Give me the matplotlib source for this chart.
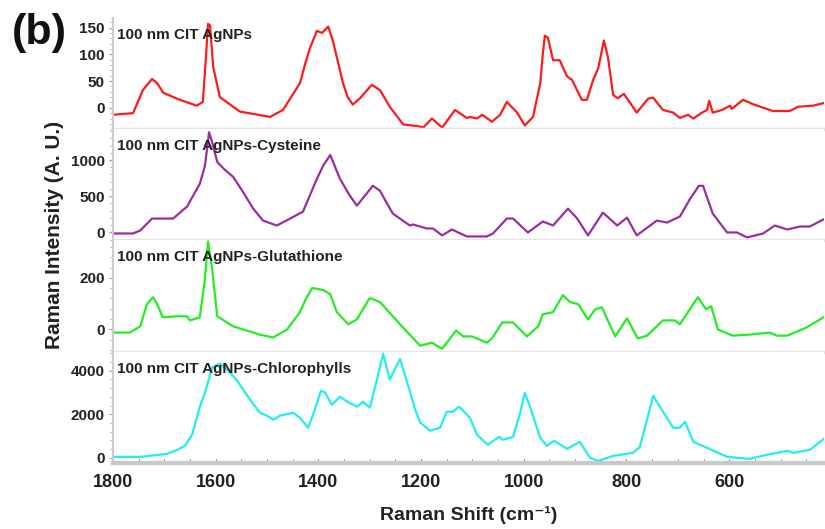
import matplotlib.pyplot as plt
import numpy as np
from matplotlib.ticker import MultipleLocator, AutoMinorLocator

plt.rcParams['font.family'] = ['Liberation Sans', 'DejaVu Sans']
plt.rcParams['font.weight'] = 'bold'

# Spectra (wavenumber cm-1, intensity A.U.)
cit_wn = [1800, 1761, 1742, 1724, 1714, 1702, 1670, 1637, 1625, 1618, 1615, 1611, 1605, 1592, 1553, 1494,
          1469, 1436, 1425, 1416, 1403, 1393, 1381, 1372, 1352, 1343, 1333, 1319, 1296, 1280, 1261, 1235, 1202,
          1196, 1179, 1159, 1134, 1111, 1105, 1091, 1081, 1062, 1046, 1033, 1013, 998, 982, 968,
          963, 959, 953, 943, 930, 916, 906, 887, 877, 865, 855, 844, 836, 826, 817, 805, 797, 780, 758,
          748, 729, 709, 696, 680, 670, 653, 643, 639, 632, 614, 598, 595, 573, 554, 515, 482, 466,
          437, 415]
cit_int = [-13, -10, 33, 54, 46, 28, 15, 4, 11, 110, 157, 154, 77, 20, -7, -17,
           -4, 46, 85, 113, 144, 140, 152, 126, 46, 20, 6, 18, 43, 33, 2, -31, -35,
           -37, -20, -37, -4, -19, -17, -20, -13, -26, -13, 11, -9, -33, -17, 46,
           100, 135, 131, 89, 89, 59, 52, 15, 15, 52, 74, 126, 94, 24, 18, 26, 15, -9, 17,
           19, -4, -9, -19, -13, -20, -9, -4, 13, -9, -4, 4, -2, 15, 7, -6, -6, 2,
           4, 9]

cys_wn = [1800, 1761, 1747, 1724, 1683, 1656, 1631, 1621, 1613, 1607, 1597, 1583, 1566, 1547, 1527, 1508, 1481,
          1455, 1430, 1403, 1390, 1377, 1358, 1340, 1325, 1294, 1280, 1268, 1255, 1222, 1216, 1189, 1177, 1159, 1140,
          1111, 1072, 1060, 1033, 1021, 992, 963, 943, 914, 896, 875, 846, 818, 799, 780, 741, 721,
          696, 676, 659, 651, 632, 604, 585, 565, 534, 511, 487, 462, 443, 413]
cys_int = [-14, -14, 27, 192, 192, 356, 671, 918, 1384, 1247, 973, 870, 767, 560, 329, 164, 96,
           192, 288, 740, 930, 1069, 740, 520, 370, 644, 575, 420, 260, 96, 110, 55, 55, -41, 41,
           -55, -55, -14, 192, 192, 0, 151, 96, 329, 192, -41, 274, 96, 205, -41, 164, 137,
           219, 466, 644, 644, 260, 0, 0, -69, -14, 96, 41, 82, 82, 192]

glu_wn = [1800, 1767, 1747, 1734, 1722, 1714, 1703, 1675, 1656, 1650, 1631, 1621, 1615, 1607, 1597,
          1566, 1514, 1488, 1461, 1436, 1424, 1412, 1391, 1377, 1364, 1342, 1325, 1300, 1280, 1241, 1202,
          1179, 1159, 1132, 1118, 1101, 1072, 1062, 1042, 1021, 994, 972, 963, 943, 924, 910, 894,
          875, 861, 848, 822, 799, 778, 760, 729, 706, 696, 661, 645, 635, 622, 593, 560, 521, 507,
          487, 449, 413]
glu_int = [-12, -12, 12, 98, 125, 98, 47, 51, 51, 35, 47, 196, 341, 235, 51,
           12, -20, -31, 0, 67, 120, 161, 153, 137, 67, 20, 39, 122, 106, 20, -63,
           -51, -75, -4, -27, -27, -51, -35, 27, 27, -27, 12, 59, 67, 133, 106, 98,
           39, 78, 86, -27, 43, -35, -24, 35, 35, 20, 125, 78, 90, 0, -24, -20, -12, -24,
           -24, 8, 51]

chl_wn = [1800, 1747, 1695, 1675, 1660, 1646, 1631, 1621, 1607, 1592, 1572, 1557, 1533, 1514, 1500,
          1488, 1475, 1449, 1436, 1420, 1407, 1395, 1387, 1374, 1358, 1344, 1325, 1313, 1300, 1286,
          1274, 1261, 1241, 1222, 1212, 1202, 1183, 1163, 1150, 1138, 1126, 1105, 1091, 1070, 1048, 1040,
          1021, 1007, 998, 988, 968, 955, 941, 916, 891, 871, 855, 826, 787, 774, 760, 748, 735, 709,
          696, 686, 670, 643, 604, 560, 527, 487, 476, 443, 413]
chl_int = [46, 46, 184, 368, 552, 1058, 2346, 2990, 4140, 4324, 3910, 3496, 2668, 2070, 1932,
           1748, 1932, 2070, 1840, 1380, 2208, 3082, 2990, 2438, 2806, 2576, 2346, 2576, 2300, 3588,
           4784, 3588, 4530, 3060, 2250, 1630, 1242, 1380, 2116, 2116, 2346, 1840, 1058, 598, 966, 828,
           966, 2070, 2990, 2346, 920, 552, 782, 414, 736, 0, -138, 92, 230, 506, 1748, 2852, 2346, 1380,
           1380, 1656, 736, 460, 46, -46, 138, 322, 230, 368, 920]

labels = ['100 nm CIT AgNPs', '100 nm CIT AgNPs-Cysteine',
          '100 nm CIT AgNPs-Glutathione', '100 nm CIT AgNPs-Chlorophylls']
colors = ['#ff1a1a', '#9a2ea0', '#22ee22', '#22eeee']
y_limits = [(-40, 168), (-110, 1425), (-86, 345), (-230, 4870)]
y_steps = [50, 500, 200, 2000]

spectra = [(cit_wn, cit_int), (cys_wn, cys_int), (glu_wn, glu_int), (chl_wn, chl_int)]

fig, axes = plt.subplots(4, 1, sharex=True, figsize=(8.25, 5.29), dpi=100)
fig.subplots_adjust(left=0.137, right=0.999, top=0.966, bottom=0.125, hspace=0)

for i, ax in enumerate(axes):
    wn, inten = spectra[i]
    ax.plot(wn, inten, color=colors[i], lw=1.6)
    ax.set_ylim(*y_limits[i])
    ax.yaxis.set_major_locator(MultipleLocator(y_steps[i]))
    ax.yaxis.set_minor_locator(AutoMinorLocator(5))
    ax.text(0.006, 0.847, labels[i], transform=ax.transAxes, va='center', ha='left',
            fontsize=11, fontweight='bold', color='#222222')
    for side in ['top', 'right']:
        ax.spines[side].set_visible(False)
    ax.spines['left'].set_color('#cccccc')
    ax.spines['left'].set_linewidth(1.5)
    ax.spines['bottom'].set_color('#e4e4e4' if i < 3 else '#c8c8c8')
    ax.spines['bottom'].set_linewidth(2.5 if i < 3 else 3)
    ax.tick_params(axis='y', which='major', labelsize=11, length=3, color='#999999',
                   pad=3, labelcolor='#222222')
    ax.tick_params(axis='y', which='minor', length=2, color='#aaaaaa')
    ax.tick_params(axis='x', which='both', length=0 if i < 3 else 3, color='#777777')
    for lab in ax.get_yticklabels():
        lab.set_fontweight('bold')

ax = axes[-1]
ax.set_xlim(1800, 415)
ax.xaxis.set_major_locator(MultipleLocator(200))
ax.xaxis.set_minor_locator(MultipleLocator(50))
ax.tick_params(axis='x', which='major', labelsize=13, length=3, direction='in', pad=8,
               labelcolor='#222222')
ax.tick_params(axis='x', which='minor', length=3, direction='in', color='#777777')
for lab in ax.get_xticklabels():
    lab.set_fontweight('bold')
ax.set_xlabel('Raman Shift (cm\u207b\u00b9)', fontsize=14, fontweight='bold',
              color='#222222', labelpad=11)

fig.text(0.066, 0.556, 'Raman Intensity (A. U.)', rotation=90, ha='center', va='center',
         fontsize=15, fontweight='bold', color='#222222')
fig.text(0.014, 0.937, '(b)', ha='left', va='center', fontsize=31, fontweight='bold',
         color='#111111')

plt.savefig('out.png', dpi=100)
